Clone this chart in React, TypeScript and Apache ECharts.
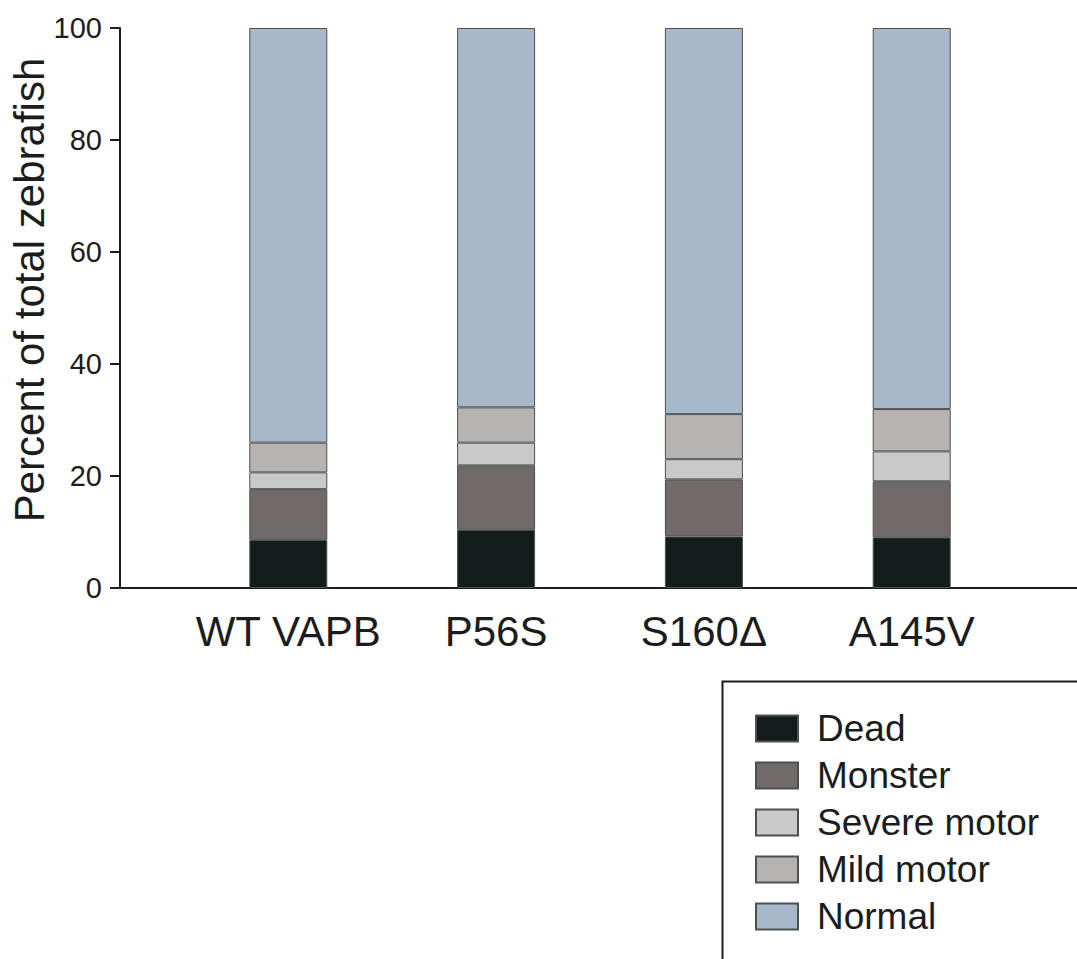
import React, { useEffect, useRef } from "react";
import * as echarts from "echarts";

const categories = ["WT VAPB", "P56S", "S160Δ", "A145V"];
const seriesNames = ["Dead", "Monster", "Severe motor", "Mild motor", "Normal"];
const dead = [8.6, 10.4, 9.2, 9.05];
const monster = [9.05, 11.5, 10.2, 10.0];
const severeMotor = [3.0, 4.05, 3.6, 5.35];
const mildMotor = [5.3, 6.3, 8.05, 7.55];
const normal = [74.05, 67.75, 68.95, 68.05];
const yTicks = [0, 20, 40, 60, 80, 100];
const colors = ["#141c1b", "#706b6a", "#c9c9c9", "#b7b3b2", "#a6b8c9"];

const FONT = "'Liberation Sans', Arial, Helvetica, sans-serif";
const INK = "#1b1d1d";

export default function App() {
  const ref = useRef<HTMLDivElement>(null);
  useEffect(() => {
    if (!ref.current) return;
    const chart = echarts.init(ref.current, undefined, { renderer: "svg" });
    const values = [dead, monster, severeMotor, mildMotor, normal];
    chart.setOption({
      animation: false,
      backgroundColor: "#ffffff",
      grid: [
        { left: 184.4, right: 61.4, top: 28, bottom: 371, containLabel: false, outerBoundsMode: "none" },
        { left: 120, right: 0, top: 28, bottom: 371, containLabel: false, outerBoundsMode: "none" },
      ],
      xAxis: [
        {
          type: "category",
          gridIndex: 0,
          data: categories,
          boundaryGap: true,
          axisLine: { show: false },
          axisTick: { show: false },
          axisLabel: {
            fontSize: 42,
            fontFamily: FONT,
            color: INK,
            margin: 22,
            interval: 0,
          },
        },
        {
          type: "value",
          gridIndex: 1,
          min: 0,
          max: 1,
          splitLine: { show: false },
          axisTick: { show: false },
          axisLabel: { show: false },
          axisLine: { show: true, onZero: false, lineStyle: { color: INK, width: 2 } },
        },
      ],
      yAxis: [
        {
          type: "value",
          gridIndex: 0,
          offset: 64.4,
          min: yTicks[0],
          max: yTicks[yTicks.length - 1],
          interval: 20,
          splitLine: { show: false },
          axisLine: { show: true, onZero: false, lineStyle: { color: INK, width: 2 } },
          axisTick: { show: true, length: 10, lineStyle: { color: INK, width: 2 } },
          axisLabel: { fontSize: 29, fontFamily: FONT, color: INK, margin: 18 },
          name: "Percent of total zebrafish",
          nameLocation: "middle",
          nameGap: 70,
          nameMoveOverlap: false,
          nameTextStyle: {
            fontSize: 42,
            fontFamily: FONT,
            color: INK,
            padding: [0, 0, 0, 36],
          },
        },
        {
          type: "value",
          gridIndex: 1,
          min: 0,
          max: 100,
          show: false,
        },
      ],
      legend: {
        orient: "vertical",
        left: 755,
        top: 710,
        padding: 0,
        itemWidth: 42,
        itemHeight: 26,
        itemGap: 10,
        icon: "rect",
        data: seriesNames,
        textStyle: {
          fontSize: 37,
          lineHeight: 37,
          fontFamily: FONT,
          color: INK,
          padding: [0, 0, 0, 14],
        },
      },
      graphic: [
        {
          type: "rect",
          left: 720,
          top: 679,
          shape: { width: 420, height: 340 },
          style: { fill: "none", stroke: INK, lineWidth: 2 },
          silent: true,
        },
      ],
      series: seriesNames.map((name, si) => ({
        name,
        type: "bar",
        stack: "total",
        xAxisIndex: 0,
        yAxisIndex: 0,
        barWidth: 78,
        itemStyle: { color: colors[si], borderColor: "#4d5050", borderWidth: 1 },
        data: values[si],
      })),
    });
    return () => chart.dispose();
  }, []);
  return (
    <div
      ref={ref}
      style={{ position: "fixed", left: 0, top: 0, width: 1077, height: 959 }}
    />
  );
}
